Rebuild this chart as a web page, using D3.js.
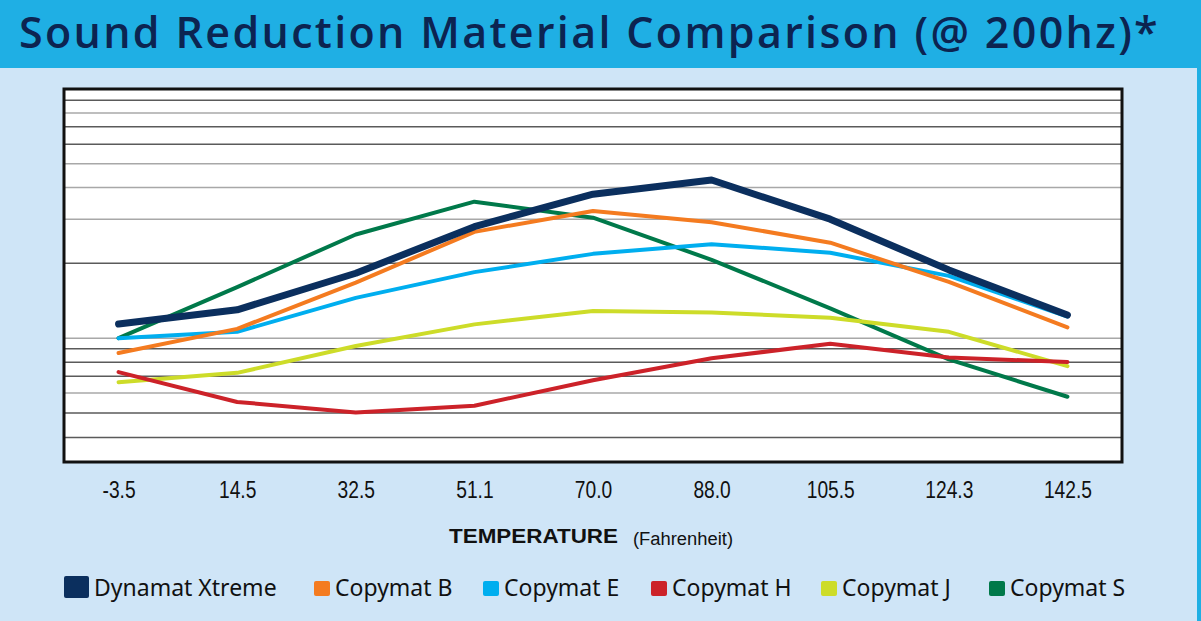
<!DOCTYPE html>
<html>
<head>
<meta charset="utf-8">
<script src="https://cdn.jsdelivr.net/npm/d3@7/dist/d3.min.js"></script>
<style>
  html, body { margin: 0; padding: 0; background: #cfe5f7; }
  svg { display: block; }
</style>
</head>
<body>
<div id="chartWrap"></div>
<script>
'use strict'

// Chart data
const temperatures = ['-3.5', '14.5', '32.5', '51.1', '70.0', '88.0', '105.5', '124.3', '142.5'];
const seriesNames = ['Dynamat Xtreme', 'Copymat B', 'Copymat E', 'Copymat H', 'Copymat J', 'Copymat S'];
const dynamatXtreme = [37.0, 40.8, 50.6, 63.1, 71.8, 75.6, 65.1, 51.5, 39.4];
const copymatB = [29.2, 35.7, 48.1, 61.7, 67.3, 64.3, 58.8, 48.3, 36.1];
const copymatE = [33.2, 34.9, 44.0, 50.9, 55.8, 58.4, 56.1, 49.9, 39.0];
const copymatH = [24.1, 16.1, 13.3, 15.1, 21.9, 27.8, 31.7, 28.0, 26.8];
const copymatJ = [21.4, 23.9, 31.1, 36.9, 40.5, 40.1, 38.7, 34.9, 25.7];
const copymatS = [33.2, 46.9, 61.0, 69.8, 65.5, 54.2, 41.2, 27.5, 17.5];
// unlabeled horizontal grid lines (same units as the series)
const gridValues = [97.1, 93.7, 90.0, 85.3, 80.1, 73.7, 65.2, 53.4, 33.3, 30.5, 26.9, 23.1, 18.6, 13.3, 6.7];

window.addEventListener('DOMContentLoaded', function() {
    //#region settings
    const svgWidth = 1201, svgHeight = 621;
    const plot = { left: 64, top: 89, right: 1122, bottom: 462 };
    const colors = ['#0b2f5e', '#f47b20', '#00aeef', '#cc2229', '#cddc29', '#00794a'];
    const widths = [7, 4, 4, 4, 4, 4];
    const seriesValues = [dynamatXtreme, copymatB, copymatE, copymatH, copymatJ, copymatS];
    const gridDark = [1, 0, 1, 1, 0, 0, 0, 1, 0, 1, 1, 1, 0, 1, 1];
    //#endregion settings

    const svg = d3.select('#chartWrap')
        .append('svg')
        .attr('width', svgWidth)
        .attr('height', svgHeight);

    // background + title band
    svg.append('rect')
        .attr('width', svgWidth).attr('height', svgHeight)
        .attr('fill', '#cfe5f7');
    svg.append('rect')
        .attr('width', svgWidth).attr('height', 68)
        .attr('fill', '#1fafe4');
    svg.append('rect')
        .attr('x', 1197).attr('width', 4).attr('height', svgHeight)
        .attr('fill', '#1fafe4');

    const titleText = 'Sound Reduction Material Comparison (@ 200hz)*';
    const title = svg.append('text')
        .attr('x', 19)
        .attr('y', 48)
        .attr('fill', '#0c2451')
        .attr('font-family', '"Open Sans", "Noto Sans", sans-serif')
        .attr('font-weight', 600)
        .attr('font-size', 43)
        .text(titleText);
    // widen the title a little so it spans the same width as in the picture
    const tw = title.node().getComputedTextLength();
    title.attr('letter-spacing', Math.max(0, (1141 - tw) / titleText.length));

    //#region scales
    const xScale = d3.scalePoint()
        .domain(temperatures)
        .range([plot.left, plot.right])
        .padding(0.46);

    const yScale = d3.scaleLinear()
        .domain([0, 100])
        .range([plot.bottom, plot.top]);
    //#endregion scales

    // plot area
    svg.append('rect')
        .attr('x', plot.left).attr('y', plot.top)
        .attr('width', plot.right - plot.left)
        .attr('height', plot.bottom - plot.top)
        .attr('fill', '#ffffff');

    // grid lines through a left axis with full-width ticks
    svg.append('g')
        .attr('class', 'grid')
        .attr('transform', `translate(${plot.left},0)`)
        .call(d3.axisLeft(yScale).tickValues(gridValues).tickSize(-(plot.right - plot.left)).tickFormat(''))
        .call(g => g.select('.domain').remove())
        .selectAll('.tick line')
        .attr('stroke', (d, i) => gridDark[i] ? '#5a5a5a' : '#a8a8a8')
        .attr('stroke-width', 1.5);

    // x axis labels (condensed look)
    svg.append('g')
        .attr('class', 'axis axis-x')
        .attr('transform', `translate(0, ${plot.bottom})`)
        .call(d3.axisBottom(xScale).tickSize(0).tickPadding(19))
        .call(g => g.select('.domain').remove())
        .selectAll('text')
        .attr('font-family', '"Liberation Sans", Arial, sans-serif')
        .attr('font-size', 24)
        .attr('fill', '#111')
        .attr('dy', '0.71em')
        .attr('transform', 'scale(0.8,1)');

    // lines
    const line = d3.line()
        .x((d, i) => xScale(temperatures[i]))
        .y(d => yScale(d));

    svg.append('g')
        .attr('class', 'lines')
        .selectAll('path')
        .data(seriesValues.slice().reverse())
        .join('path')
        .attr('d', line)
        .attr('fill', 'none')
        .attr('stroke', (d, i) => colors[colors.length - 1 - i])
        .attr('stroke-width', (d, i) => widths[widths.length - 1 - i])
        .attr('stroke-linecap', 'round')
        .attr('stroke-linejoin', 'round');

    // frame
    svg.append('rect')
        .attr('x', plot.left).attr('y', plot.top)
        .attr('width', plot.right - plot.left)
        .attr('height', plot.bottom - plot.top)
        .attr('fill', 'none')
        .attr('stroke', '#111')
        .attr('stroke-width', 3);

    // axis title
    const axisTitle = svg.append('text')
        .attr('y', 543)
        .attr('font-family', '"Liberation Sans", Arial, sans-serif')
        .attr('fill', '#111');
    axisTitle.append('tspan')
        .attr('x', 449)
        .attr('font-weight', 700)
        .attr('font-size', 20)
        .attr('textLength', 169)
        .attr('lengthAdjust', 'spacingAndGlyphs')
        .text('TEMPERATURE');
    axisTitle.append('tspan')
        .attr('x', 633)
        .attr('y', 545)
        .attr('font-size', 18)
        .attr('textLength', 100)
        .attr('lengthAdjust', 'spacingAndGlyphs')
        .text('(Fahrenheit)');

    //#region legend
    const legendX = [64, 314, 483, 651, 821, 989];
    const legend = svg.append('g').attr('class', 'legend');
    const items = legend.selectAll('g')
        .data(seriesNames)
        .join('g')
        .attr('transform', (d, i) => `translate(${legendX[i]},0)`);

    items.append('rect')
        .attr('x', 0)
        .attr('y', (d, i) => i === 0 ? 576 : 581)
        .attr('width', (d, i) => i === 0 ? 25 : 16)
        .attr('height', (d, i) => i === 0 ? 22 : 15)
        .attr('rx', 2)
        .attr('fill', (d, i) => colors[i]);

    items.append('text')
        .attr('x', (d, i) => i === 0 ? 30 : 21)
        .attr('y', 596)
        .attr('font-family', '"Noto Sans", "Open Sans", sans-serif')
        .attr('font-size', 23)
        .attr('fill', '#111')
        .text(d => d);
    //#endregion legend
});
</script>
</body>
</html>
